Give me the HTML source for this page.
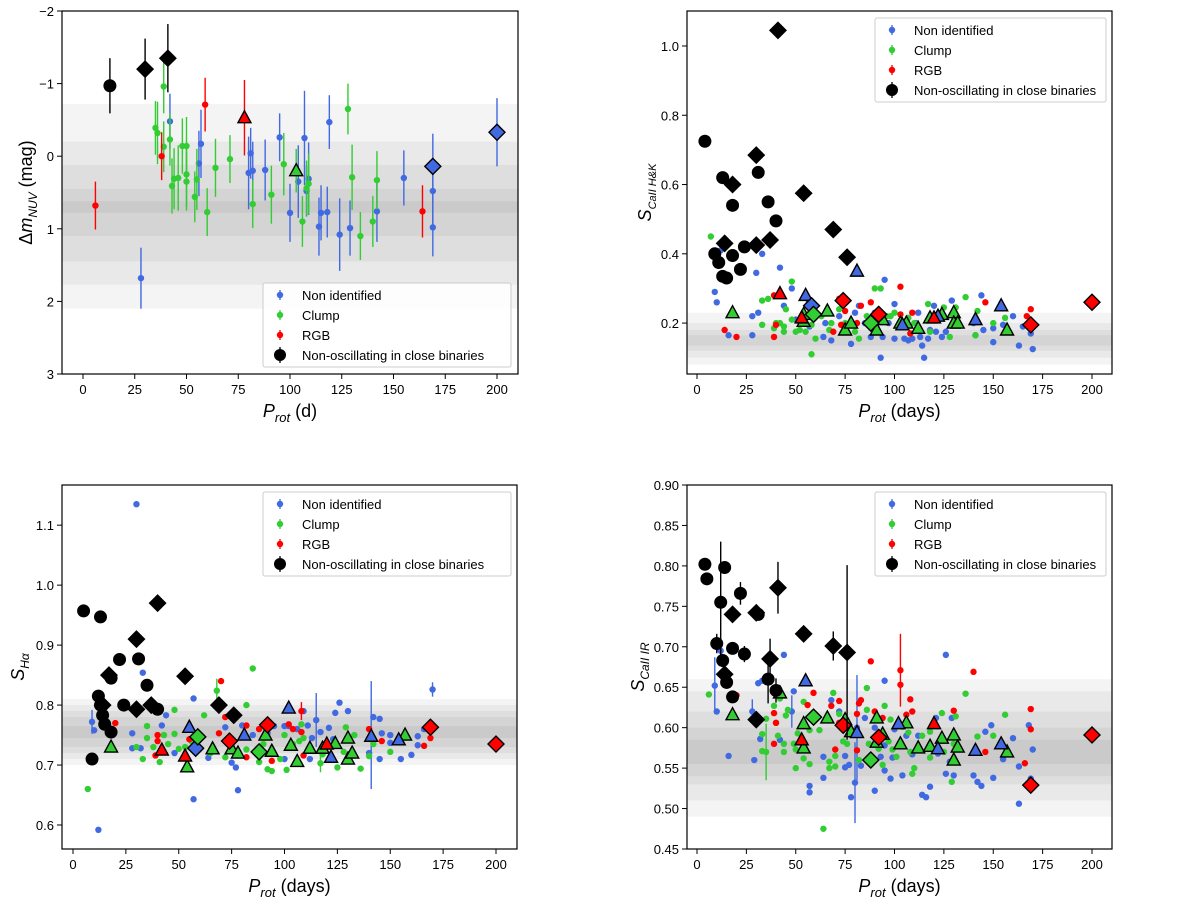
<!DOCTYPE html>
<html><head><meta charset="utf-8"><style>
body{margin:0;background:#fff;}
svg text{font-family:"Liberation Sans","DejaVu Sans",sans-serif;fill:#000;}
</style></head><body>
<svg id="fig" width="1200" height="901" viewBox="0 0 1200 901" xmlns="http://www.w3.org/2000/svg"></svg>
<script>
// ---------- Panel 1: Delta m NUV ----------
const p1Blue=[[28,1.68,0.42],[42,-0.48,0.38],[56,0.1,0.45],[57,-0.17,0.47],[80,0.23,0.5],[81,-0.04,0.35],[82,0.2,0.4],[88,0.19,0.42],[95,-0.26,0.33],[100,0.78,0.4],[104,0.35,0.5],[107,-0.25,0.65],[108,0.48,0.35],[109,0.31,0.5],[114,0.97,0.4],[115,0.78,0.38],[118,0.77,0.35],[119,-0.47,0.37],[124,1.08,0.5],[129,0.99,0.38],[142,0.76,0.42],[155,0.3,0.38],[169,0.48,0.45],[169,0.98,0.4]];
const p1Green=[[35,-0.39,0.37],[36,-0.32,0.43],[39,-0.96,0.37],[39,-0.13,0.35],[42,-0.23,0.36],[43,0.41,0.38],[44,0.31,0.42],[46,0.3,0.45],[48,-0.14,0.38],[50,-0.14,0.4],[50,0.25,0.45],[50,0.35,0.4],[54,0.56,0.35],[55,0.32,0.42],[60,0.77,0.33],[64,0.16,0.4],[71,0.04,0.33],[82,0.66,0.33],[91,0.53,0.4],[97,0.11,0.43],[106,0.9,0.35],[108,0.44,0.38],[109,0.38,0.42],[128,-0.65,0.35],[130,0.29,0.45],[134,1.1,0.33],[140,0.9,0.35],[142,0.33,0.4]];
const p1Red=[[6,0.68,0.33],[38,0,0.33],[59,-0.71,0.37],[164,0.76,0.36]];
const p1BlackCircles=[[13,-0.97,0.38]];
const p1BlackDiamonds=[[30,-1.2,0.42],[41,-1.35,0.47]];
const p1TriGreen=[[103,0.2,0.3]];
const p1TriBlue=[];
const p1TriRed=[[78,-0.53,0.52]];
const p1DiaBlue=[[169,0.14,0.45],[200,-0.33,0.47]];
const p1DiaGreen=[];
const p1DiaRed=[];
const p1YTicks=[-2,-1,0,1,2,3];
const p1YTickLabels=["\u22122","\u22121","0","1","2","3"];

// ---------- Panel 2: S CaII H&K ----------
const p2Blue=[[9,0.29],[10,0.26],[12,0.41],[16,0.165],[28,0.165],[28,0.22],[30,0.345],[31,0.23],[33,0.4],[42,0.36],[44,0.25],[48,0.3],[50,0.21],[57,0.19],[64,0.16],[65,0.2],[68,0.15],[72,0.22],[78,0.14],[80,0.23],[82,0.25],[88,0.16],[90,0.23],[93,0.1],[94,0.16],[95,0.325],[100,0.255],[100,0.155],[103,0.2],[105,0.155],[107,0.15],[109,0.155],[111,0.2],[112,0.23],[113,0.16],[114,0.135],[115,0.1],[117,0.155],[120,0.25],[121,0.175],[123,0.215],[124,0.16],[126,0.175],[129,0.265],[140,0.2],[141,0.165],[144,0.28],[145,0.18],[150,0.145],[155,0.195],[160,0.22],[163,0.135],[165,0.19],[169,0.17],[170,0.125],[150,0.185],[118,0.18],[97,0.2],[85,0.2]];
const p2Green=[[7,0.45],[33,0.265],[33,0.195],[36,0.27],[39,0.185],[40,0.2],[42,0.2],[44,0.175],[44,0.19],[45,0.24],[48,0.32],[48,0.21],[50,0.175],[52,0.18],[55,0.175],[58,0.195],[58,0.11],[60,0.155],[63,0.22],[67,0.18],[68,0.2],[72,0.24],[75,0.2],[80,0.175],[82,0.155],[86,0.22],[90,0.3],[93,0.3],[96,0.22],[98,0.22],[100,0.23],[107,0.215],[110,0.2],[117,0.255],[118,0.175],[125,0.245],[128,0.16],[131,0.245],[136,0.275],[141,0.165],[142,0.235],[150,0.2],[156,0.215]];
const p2Red=[[14,0.18],[20,0.16],[39,0.28],[39,0.16],[40,0.195],[56,0.27],[69,0.175],[72,0.27],[73,0.195],[75,0.235],[81,0.2],[83,0.25],[88,0.26],[103,0.225],[103,0.305],[108,0.17],[109,0.23],[146,0.26],[167,0.22],[169,0.24],[122,0.215]];
const p2BlackCircles=[[4,0.725],[9,0.4],[11,0.375],[13,0.335],[13,0.62],[15,0.33],[18,0.395],[18,0.54],[22,0.355],[24,0.42],[31,0.635],[36,0.55],[40,0.495]];
const p2BlackDiamonds=[[14,0.43],[18,0.6],[30,0.685],[30,0.425],[37,0.44],[41,1.045],[54,0.575],[69,0.47],[76,0.39]];
const p2TriGreen=[[18,0.23],[54,0.225],[54,0.205],[66,0.235],[75,0.18],[78,0.2],[91,0.18],[94,0.21],[103,0.2],[106,0.2],[112,0.185],[118,0.215],[124,0.225],[130,0.23],[130,0.2],[132,0.2],[157,0.18]];
const p2TriBlue=[[55,0.28],[81,0.35],[104,0.195],[122,0.22],[141,0.21],[154,0.25]];
const p2TriRed=[[42,0.285],[53,0.215],[120,0.215]];
const p2DiaBlue=[[58,0.25]];
const p2DiaGreen=[[59,0.225],[88,0.2]];
const p2DiaRed=[[74,0.265],[92,0.225],[169,0.195],[200,0.26]];
const p2YTicks=[0.2,0.4,0.6,0.8,1.0];
const p2YTickLabels=["0.2","0.4","0.6","0.8","1.0"];

// ---------- Panel 3: S H-alpha ----------
const p3Blue=[[9,0.772,0.02],[10,0.758],[12,0.592],[28,0.753],[28,0.728],[30,1.135],[32,0.728],[33,0.854],[42,0.766],[44,0.783],[48,0.72],[57,0.811],[57,0.643],[64,0.712],[72,0.763],[75,0.704],[77,0.696],[78,0.658],[80,0.766],[85,0.75],[92,0.753],[95,0.765],[100,0.765],[100,0.71],[102,0.765],[106,0.76],[109,0.79],[111,0.766],[112,0.71],[113,0.745],[115,0.775,0.045],[117,0.755],[121,0.762],[123,0.743],[124,0.787],[126,0.804],[130,0.79],[140,0.72],[142,0.78],[145,0.777],[145,0.71],[146,0.753],[150,0.75],[150,0.737],[155,0.71],[160,0.717],[163,0.748],[163,0.733],[166,0.76],[170,0.826,0.012],[141,0.75,0.09]];
const p3Green=[[7,0.66],[30,0.73],[33,0.71],[35,0.765],[35,0.745],[38,0.73],[41,0.705],[43,0.75],[45,0.735],[48,0.792],[48,0.752],[50,0.727],[53,0.73],[56,0.74],[62,0.783],[65,0.72],[68,0.824,0.02],[72,0.713],[82,0.8],[82,0.726],[85,0.861],[88,0.705],[90,0.735],[92,0.693],[94,0.69],[98,0.71],[100,0.75],[101,0.692],[104,0.735],[107,0.74],[108,0.768],[109,0.745],[117,0.703,0.015],[118,0.718],[125,0.696],[128,0.722],[129,0.763],[133,0.75],[136,0.694],[140,0.715],[142,0.735],[150,0.722]];
const p3Red=[[20,0.77],[39,0.716],[40,0.74],[40,0.75],[55,0.743],[69,0.753],[70,0.84],[72,0.78],[82,0.766],[82,0.713],[88,0.76],[94,0.707],[102,0.768],[104,0.76],[108,0.79,0.015],[109,0.716],[108,0.755],[140,0.76],[146,0.74],[166,0.732],[169,0.745]];
const p3BlackCircles=[[5,0.957],[9,0.71],[12,0.815],[13,0.8],[14,0.783],[15,0.768],[18,0.755],[13,0.947],[22,0.876],[24,0.8],[31,0.877],[35,0.833],[40,0.793],[18,0.845]];
const p3BlackDiamonds=[[14,0.8],[17,0.85],[30,0.91],[30,0.793],[37,0.8],[40,0.97],[53,0.848],[69,0.8],[76,0.783]];
const p3TriGreen=[[18,0.73],[54,0.697],[66,0.727],[75,0.727],[78,0.72],[91,0.75],[94,0.723],[103,0.733],[106,0.706],[112,0.728],[118,0.728],[124,0.736],[130,0.745],[130,0.71],[132,0.72],[157,0.75]];
const p3TriBlue=[[55,0.763],[81,0.75],[102,0.795],[122,0.713],[141,0.748],[154,0.742]];
const p3TriRed=[[42,0.725],[53,0.715],[120,0.735]];
const p3DiaBlue=[[58,0.728]];
const p3DiaGreen=[[59,0.747],[88,0.722]];
const p3DiaRed=[[74,0.74],[92,0.767],[169,0.763],[200,0.735]];
const p3YTicks=[0.6,0.7,0.8,0.9,1.0,1.1];
const p3YTickLabels=["0.6","0.7","0.8","0.9","1.0","1.1"];

// ---------- Panel 4: S CaII IR ----------
const p4Blue=[[9,0.652,0.035],[10,0.62],[12,0.695],[16,0.565],[28,0.62,0.015],[29,0.56],[31,0.655],[32,0.586],[33,0.658],[42,0.585],[44,0.69],[48,0.62,0.02],[49,0.645],[57,0.528],[57,0.52],[64,0.564],[64,0.538],[68,0.634],[72,0.62],[75,0.565],[75,0.551],[77,0.554],[78,0.514],[80,0.532,0.05],[81,0.6,0.065],[83,0.553],[85,0.612],[90,0.522],[90,0.6],[93,0.564],[95,0.658],[95,0.547],[95,0.578],[98,0.537],[99,0.563],[100,0.598],[104,0.541],[106,0.59],[109,0.567],[112,0.59],[114,0.517],[116,0.514],[118,0.527],[121,0.612],[122,0.568],[126,0.69],[126,0.543],[128,0.558],[130,0.541],[129,0.612],[140,0.541],[142,0.533],[144,0.528],[146,0.595],[149,0.603],[150,0.538],[155,0.561],[160,0.587],[163,0.506],[163,0.552],[168,0.603],[169,0.537],[170,0.573]];
const p4Green=[[6,0.641],[20,0.64],[33,0.571],[33,0.592],[35,0.611],[35,0.57,0.035],[39,0.627],[40,0.606],[41,0.59],[42,0.636],[44,0.57],[44,0.58],[45,0.615],[46,0.622],[49,0.58],[50,0.573],[50,0.55],[51,0.593],[54,0.632],[54,0.562],[57,0.597],[57,0.555],[62,0.597],[64,0.475],[67,0.558],[67,0.55],[69,0.643],[70,0.565],[70,0.552],[72,0.617],[74,0.583],[76,0.58],[82,0.56],[86,0.649],[86,0.622],[87,0.58],[92,0.574],[94,0.554],[95,0.627],[97,0.583],[98,0.61],[99,0.573],[101,0.564],[104,0.601],[107,0.594],[108,0.57],[109,0.543],[110,0.55],[114,0.59],[118,0.595],[118,0.563],[124,0.618],[125,0.57],[129,0.533],[130,0.58],[131,0.614],[136,0.642],[141,0.57],[142,0.589],[150,0.59],[156,0.616]];
const p4Red=[[15,0.652],[20,0.64],[39,0.618],[39,0.58],[40,0.606],[56,0.628],[59,0.643],[68,0.627],[70,0.573],[72,0.633],[72,0.606],[81,0.617],[81,0.572],[82,0.63],[83,0.634],[88,0.682],[90,0.62],[94,0.612],[103,0.671,0.045],[103,0.653],[106,0.616],[108,0.635],[109,0.62],[130,0.621],[140,0.669],[146,0.57],[166,0.556],[169,0.598],[169,0.623]];
const p4BlackCircles=[[4,0.802],[5,0.784],[10,0.704,0.012],[12,0.755,0.075],[13,0.683],[14,0.798],[15,0.656],[18,0.638],[18,0.698],[22,0.766,0.014],[24,0.691,0.01],[31,0.74],[36,0.66,0.03],[40,0.646,0.015]];
const p4BlackDiamonds=[[14,0.666],[18,0.74],[30,0.742],[30,0.61],[37,0.685,0.025],[41,0.773,0.032],[54,0.716],[69,0.701,0.018],[76,0.693,0.108]];
const p4TriGreen=[[18,0.616],[42,0.643],[54,0.605],[54,0.575],[66,0.612],[75,0.61],[78,0.595],[91,0.612],[91,0.582],[94,0.592],[103,0.58],[106,0.606],[112,0.575],[118,0.577],[124,0.587],[130,0.591],[130,0.56],[132,0.576],[157,0.57]];
const p4TriBlue=[[55,0.658],[81,0.594],[102,0.605],[122,0.574],[141,0.572],[154,0.58]];
const p4TriRed=[[53,0.585],[120,0.605]];
const p4DiaBlue=[];
const p4DiaGreen=[[59,0.613],[88,0.56]];
const p4DiaRed=[[74,0.603],[92,0.588],[169,0.529],[200,0.591]];
const p4YTicks=[0.45,0.5,0.55,0.6,0.65,0.7,0.75,0.8,0.85,0.9];
const p4YTickLabels=["0.45","0.50","0.55","0.60","0.65","0.70","0.75","0.80","0.85","0.90"];

const xTicks=[0,25,50,75,100,125,150,175,200];
const legendLabels=["Non identified","Clump","RGB","Non-oscillating in close binaries"];

const NS="http://www.w3.org/2000/svg";
const svg=document.getElementById('fig');
const BLUE="#4169e1",GREEN="#32cd32",RED="#ff0000";
function mk(tag,attrs,parent){const e=document.createElementNS(NS,tag);for(const k in attrs)e.setAttribute(k,attrs[k]);(parent||svg).appendChild(e);return e;}

function panel(cfg){
  const g=mk('g',{});
  
  
  const X=v=>cfg.x0+(v-0)*(cfg.x200-cfg.x0)/200;
  const Y=v=>cfg.top+(v-cfg.ymax)*(cfg.bottom-cfg.top)/(cfg.ymin-cfg.ymax);
  const clip='clip-'+cfg.name;
  const cp=mk('clipPath',{id:clip},g);
  mk('rect',{x:cfg.left,y:cfg.top,width:cfg.right-cfg.left,height:cfg.bottom-cfg.top},cp);
  const plot=mk('g',{'clip-path':'url(#'+clip+')'},g);
  // background bands
  cfg.bands.forEach(b=>{
    const r=mk('rect',{x:cfg.left,y:Math.min(Y(b[0]),Y(b[1])),width:cfg.right-cfg.left,height:Math.abs(Y(b[1])-Y(b[0])),fill:'rgba(0,0,0,0.045)'},plot);
    
    
  });
  const err=(d,col,w)=>{if(d[2]){const l=mk('line',{x1:X(d[0]),x2:X(d[0]),y1:Y(d[1]-d[2]),y2:Y(d[1]+d[2]),stroke:col,'stroke-width':w||1.4},plot);
    
    }};
  const dots=(arr,col,nm)=>arr.forEach(d=>{err(d,col);const c=mk('circle',{cx:X(d[0]),cy:Y(d[1]),r:3.2,fill:col},plot);
    
    });
  dots(cfg.blue,BLUE,'non-identified-point');
  dots(cfg.green,GREEN,'clump-point');
  dots(cfg.red,RED,'rgb-point');
  const tri=(arr,col)=>arr.forEach(d=>{err(d,col);const x=X(d[0]),y=Y(d[1]);const p=mk('polygon',{points:`${x},${y-7} ${x-6.5},${y+5} ${x+6.5},${y+5}`,fill:col,stroke:'#000','stroke-width':1.4},plot);
    
    });
  tri(cfg.triGreen,GREEN);tri(cfg.triBlue,BLUE);tri(cfg.triRed,RED);
  const dia=(arr,col,s,str)=>arr.forEach(d=>{err(d,col===BLUE?BLUE:'#000');const x=X(d[0]),y=Y(d[1]);const p=mk('polygon',{points:`${x},${y-s} ${x+s},${y} ${x},${y+s} ${x-s},${y}`,fill:col,stroke:str,'stroke-width':1.4},plot);
    
    });
  dia(cfg.diaBlue,BLUE,8,'#000');dia(cfg.diaGreen,GREEN,8,'#000');dia(cfg.diaRed,RED,8,'#000');
  cfg.blackC.forEach(d=>{err(d,'#000');const c=mk('circle',{cx:X(d[0]),cy:Y(d[1]),r:6.5,fill:'#000'},plot);
    
    });
  dia(cfg.blackD,'#000',8,'#000');
  // frame
  const fr=mk('rect',{x:cfg.left,y:cfg.top,width:cfg.right-cfg.left,height:cfg.bottom-cfg.top,fill:'none',stroke:'#000','stroke-width':1.2},g);
  
  
  // x ticks
  xTicks.forEach(t=>{mk('line',{x1:X(t),x2:X(t),y1:cfg.bottom,y2:cfg.bottom+5,stroke:'#000'},g);
    const tx=mk('text',{x:X(t),y:cfg.bottom+20,'text-anchor':'middle','font-size':13},g);tx.textContent=t;
    
    });
  cfg.yTicks.forEach((t,i)=>{mk('line',{x1:cfg.left-5,x2:cfg.left,y1:Y(t),y2:Y(t),stroke:'#000'},g);
    const tx=mk('text',{x:cfg.left-8,y:Y(t)+5,'text-anchor':'end','font-size':13},g);tx.textContent=cfg.yLabels[i];
    
    });
  // x label
  const xl=mk('text',{x:(cfg.left+cfg.right)/2,y:cfg.bottom+43,'text-anchor':'middle','font-size':18},g);
  
  
  xl.innerHTML='<tspan font-style="italic">P</tspan><tspan font-style="italic" font-size="13" dy="5">rot</tspan><tspan dy="-5"> '+cfg.xunit+'</tspan>';
  // y label
  const yc=(cfg.top+cfg.bottom)/2;
  const yl=mk('text',{x:0,y:0,'text-anchor':'middle','font-size':18,transform:`translate(${cfg.ylx},${yc}) rotate(-90)`},g);
  
  
  yl.innerHTML=cfg.ylabel;
  // legend
  const L=cfg.leg;
  const lb=mk('rect',{x:L[0],y:L[1],width:L[2],height:84,fill:'#fff','fill-opacity':0.8,stroke:'#ccc',rx:2},g);
  
  
  const cols=[BLUE,GREEN,RED,'#000'];
  legendLabels.forEach((s,i)=>{const yy=L[1]+12+i*20;const mx=L[0]+17;
    mk('line',{x1:mx,x2:mx,y1:yy-(i==3?8:5),y2:yy+(i==3?8:5),stroke:cols[i],'stroke-width':1.3},g);
    mk('circle',{cx:mx,cy:yy,r:i==3?6:3.2,fill:cols[i]},g);
    const t=mk('text',{x:L[0]+39,y:yy+5,'font-size':13},g);t.textContent=s;
    
    });
}

panel({name:'panel-nuv',left:62,right:518,top:11,bottom:374,x0:83,x200:497,ymin:3,ymax:-2,
  bands:[[-0.72,2.1],[-0.2,1.77],[0.12,1.45],[0.45,1.1],[0.62,0.78]],
  blue:p1Blue,green:p1Green,red:p1Red,blackC:p1BlackCircles,blackD:p1BlackDiamonds,
  triGreen:p1TriGreen,triBlue:p1TriBlue,triRed:p1TriRed,diaBlue:p1DiaBlue,diaGreen:p1DiaGreen,diaRed:p1DiaRed,
  yTicks:p1YTicks,yLabels:p1YTickLabels,xunit:'(d)',ylx:32,
  ylabel:'Δ<tspan font-style="italic">m</tspan><tspan font-style="italic" font-size="12" dy="5">NUV</tspan><tspan dy="-5"> (mag)</tspan>',
  leg:[263,283,248]});
panel({name:'panel-caii-hk',left:687,right:1112,top:11,bottom:374,x0:697,x200:1092,ymin:0.053,ymax:1.101,
  bands:[[0.08,0.23],[0.1,0.2],[0.12,0.18],[0.135,0.165]],
  blue:p2Blue,green:p2Green,red:p2Red,blackC:p2BlackCircles,blackD:p2BlackDiamonds,
  triGreen:p2TriGreen,triBlue:p2TriBlue,triRed:p2TriRed,diaBlue:p2DiaBlue,diaGreen:p2DiaGreen,diaRed:p2DiaRed,
  yTicks:p2YTicks,yLabels:p2YTickLabels,xunit:'(days)',ylx:651,
  ylabel:'<tspan font-style="italic">S</tspan><tspan font-style="italic" font-size="11" dy="5">CaII H&amp;K</tspan>',
  leg:[875,18,231]});
panel({name:'panel-halpha',left:62,right:517,top:485,bottom:849,x0:73,x200:496,ymin:0.56,ymax:1.167,
  bands:[[0.7,0.81],[0.71,0.8],[0.72,0.79],[0.73,0.78],[0.745,0.765]],
  blue:p3Blue,green:p3Green,red:p3Red,blackC:p3BlackCircles,blackD:p3BlackDiamonds,
  triGreen:p3TriGreen,triBlue:p3TriBlue,triRed:p3TriRed,diaBlue:p3DiaBlue,diaGreen:p3DiaGreen,diaRed:p3DiaRed,
  yTicks:p3YTicks,yLabels:p3YTickLabels,xunit:'(days)',ylx:24,
  ylabel:'<tspan font-style="italic">S</tspan><tspan font-style="italic" font-size="12" dy="5">Hα</tspan>',
  leg:[263,492,248]});
panel({name:'panel-caii-ir',left:687,right:1112,top:485,bottom:849,x0:697,x200:1092,ymin:0.45,ymax:0.9,
  bands:[[0.49,0.66],[0.51,0.645],[0.53,0.62],[0.54,0.6],[0.555,0.585]],
  blue:p4Blue,green:p4Green,red:p4Red,blackC:p4BlackCircles,blackD:p4BlackDiamonds,
  triGreen:p4TriGreen,triBlue:p4TriBlue,triRed:p4TriRed,diaBlue:p4DiaBlue,diaGreen:p4DiaGreen,diaRed:p4DiaRed,
  yTicks:p4YTicks,yLabels:p4YTickLabels,xunit:'(days)',ylx:644,
  ylabel:'<tspan font-style="italic">S</tspan><tspan font-style="italic" font-size="12" dy="5">CaII IR</tspan>',
  leg:[875,492,231]});
</script>
</body></html>
